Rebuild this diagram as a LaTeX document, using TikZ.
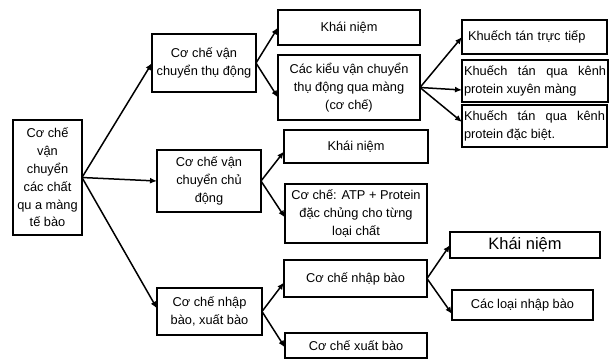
\documentclass[tikz,border=0pt]{standalone}
\usepackage{fontspec}
\setmainfont{Liberation Sans}
\usetikzlibrary{arrows.meta}
\hyphenpenalty=10000
\exhyphenpenalty=10000
\begin{document}
\begin{tikzpicture}[x=1pt,y=-1pt,
  box/.style={draw,line width=1.7pt,inner xsep=2pt,inner ysep=1pt,outer sep=0pt,
    align=center,font=\fontsize{12.8}{17.8}\selectfont},
  arr/.style={line width=1.5pt,-{Latex[length=7pt,width=6pt]}}]
\useasboundingbox (0,0) rectangle (609,360);
% root
\node [box,minimum width=69pt,minimum height=115pt] (root) at (47.5,177.5)
  {Cơ chế\\vận\\chuyển\\các chất\\qu a màng\\tế bào};
% second level
\node [box,minimum width=104pt,minimum height=58pt] (passive) at (204,63)
  {Cơ chế vận\\chuyển thụ động};
\node [box,minimum width=104pt,minimum height=62pt] (active) at (209,181)
  {Cơ chế vận\\chuyển chủ\\động};
\node [box,minimum width=105pt,minimum height=47pt] (endo) at (209.5,311.5)
  {Cơ chế nhập\\bào, xuất bào};
% third level
\node [box,minimum width=142pt,minimum height=35pt] (kn1) at (349,27.5) {Khái niệm};
\node [box,minimum width=142pt,minimum height=65pt] (cac) at (349,87.5)
  {Các kiểu vận chuyển\\thụ động qua màng\\(cơ chế)};
\node [box,minimum width=144pt,minimum height=33pt] (kn2) at (356,146.5) {Khái niệm};
\node [box,minimum width=142pt,minimum height=59pt] (atp) at (356,213.5)
  {Cơ chế: ATP + Protein\\đặc chủng cho từng\\loại chất};
\node [box,minimum width=143pt,minimum height=37pt] (nhap) at (355.5,278.5) {Cơ chế nhập bào};
\node [box,minimum width=142pt,minimum height=25pt] (xuat) at (356,345.5) {Cơ chế xuất bào};
% fourth level
\node [box,align=left,text width=133pt,inner xsep=6pt,minimum height=34pt] (kt1) at (534.5,37)
  {Khuếch tán trực tiếp};
\node [box,align=justify,text width=142pt,minimum height=42pt] (kt2) at (535,81)
  {Khuếch tán qua kênh protein xuyên màng};
\node [box,align=justify,text width=141pt,minimum height=42pt] (kt3) at (534.5,126)
  {Khuếch tán qua kênh protein đặc biệt.};
\node [box,minimum width=150pt,minimum height=26pt,font=\fontsize{16.5}{20}\selectfont] (kn3) at (525,245)
  {Khái niệm};
\node [box,minimum width=141pt,minimum height=30pt] (cacloai) at (522.5,305) {Các loại nhập bào};
% arrows
\draw [arr] (root.east) -- (passive.west);
\draw [arr] (root.east) -- (active.west);
\draw [arr] (root.east) -- ([yshift=3pt]endo.west);
\draw [arr] (passive.east) -- (kn1.west);
\draw [arr] (passive.east) -- ([yshift=-10pt]cac.west);
\draw [arr] (cac.east) -- (kt1.west);
\draw [arr] (cac.east) -- ([yshift=-9pt]kt2.west);
\draw [arr] (cac.east) -- ([yshift=4pt]kt3.west);
\draw [arr] (active.east) -- ([yshift=-5pt]kn2.west);
\draw [arr] (active.east) -- ([yshift=-4pt]atp.west);
\draw [arr] (endo.east) -- ([yshift=-4pt]nhap.west);
\draw [arr] (endo.east) -- ([yshift=-2pt]xuat.west);
\draw [arr] (nhap.east) -- (kn3.west);
\draw [arr] (nhap.east) -- ([yshift=-9pt]cacloai.west);
\end{tikzpicture}
\end{document}
